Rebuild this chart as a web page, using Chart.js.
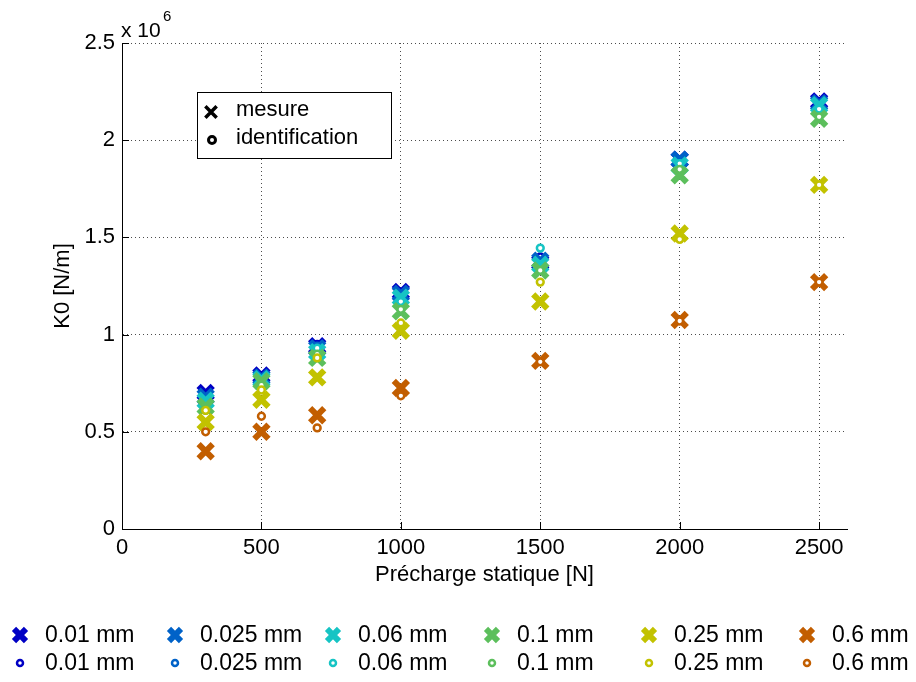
<!DOCTYPE html>
<html>
<head>
<meta charset="utf-8">
<script src="https://cdn.jsdelivr.net/npm/chart.js@4/dist/chart.umd.min.js"></script>
<style>
  html, body { margin: 0; padding: 0; background: #fff; }
  #box { width: 916px; height: 682px; }
</style>
</head>
<body>
<div id="box"><canvas id="graphique"></canvas></div>
<script>
// données (K0 en unités de 1e6 N/m)
const precharge = [300, 500, 700, 1000, 1500, 2000, 2500];
const epaisseurs = ["0.01 mm", "0.025 mm", "0.06 mm", "0.1 mm", "0.25 mm", "0.6 mm"];
const couleurs = ["#0000c4", "#0062c8", "#16c4c4", "#5cbf5c", "#c2c200", "#c25e00"];

const mesure001 = [0.70, 0.79, 0.94, 1.22, 1.37, 1.90, 2.20];
const mesure0025 = [0.68, 0.78, 0.93, 1.21, 1.38, 1.90, 2.19];
const mesure006 = [0.66, 0.77, 0.91, 1.19, 1.36, 1.87, 2.18];
const mesure01 = [0.63, 0.76, 0.88, 1.12, 1.33, 1.82, 2.11];
const mesure025 = [0.55, 0.665, 0.78, 1.02, 1.17, 1.52, 1.77];
const mesure06 = [0.40, 0.50, 0.585, 0.725, 0.865, 1.075, 1.27];

const ident001 = [0.64, 0.77, 0.95, 1.20, 1.40, 1.89, 2.19];
const ident0025 = [0.63, 0.76, 0.94, 1.18, 1.37, 1.88, 2.17];
const ident006 = [0.62, 0.75, 0.93, 1.17, 1.445, 1.88, 2.16];
const ident01 = [0.61, 0.74, 0.90, 1.13, 1.33, 1.85, 2.12];
const ident025 = [0.61, 0.715, 0.88, 1.06, 1.27, 1.49, 1.77];
const ident06 = [0.50, 0.58, 0.52, 0.685, 0.86, 1.07, 1.27];

const xTicks = [0, 500, 1000, 1500, 2000, 2500];
const yTicks = [0, 0.5, 1, 1.5, 2, 2.5];

const mesures = [mesure001, mesure0025, mesure006, mesure01, mesure025, mesure06];
const idents = [ident001, ident0025, ident006, ident01, ident025, ident06];

const police = "'Liberation Sans', Arial, sans-serif";

const styleCroix = { pointStyle: "crossRot", radius: 10, borderWidth: 6 };
const styleRond = { pointStyle: "circle", radius: 3.4, borderWidth: 2.5 };

const datasets = [];
epaisseurs.forEach((ep, i) => {
    datasets.push({
        label: ep,
        data: precharge.map((x, k) => ({ x, y: mesures[i][k] })),
        pointStyle: styleCroix.pointStyle,
        pointRadius: styleCroix.radius,
        pointBorderWidth: styleCroix.borderWidth,
        borderColor: couleurs[i],
        backgroundColor: couleurs[i],
        type_marqueur: "croix"
    });
    datasets.push({
        label: ep,
        data: precharge.map((x, k) => ({ x, y: idents[i][k] })),
        pointStyle: styleRond.pointStyle,
        pointRadius: styleRond.radius,
        pointBorderWidth: styleRond.borderWidth,
        borderColor: couleurs[i],
        backgroundColor: "#ffffff",
        type_marqueur: "rond"
    });
});
// les derniers tracés passent au-dessus (comme dans MATLAB)
datasets.forEach((d, i) => { d.order = datasets.length - i; });

function marqueur(ctx, style, couleur, fond, x, y) {
    ctx.save();
    ctx.strokeStyle = couleur;
    ctx.fillStyle = fond;
    ctx.lineWidth = style.borderWidth;
    Chart.helpers.drawPoint(ctx, { pointStyle: style.pointStyle, radius: style.radius, borderWidth: style.borderWidth, rotation: 0 }, x, y);
    ctx.restore();
}

const decor = {
    id: "decor",
    afterDraw(chart) {
        const ctx = chart.ctx;
        const a = chart.chartArea;
        const sx = chart.scales.x, sy = chart.scales.y;

        // petites graduations vers l'intérieur
        ctx.save();
        ctx.strokeStyle = "#000";
        ctx.lineWidth = 1;
        ctx.beginPath();
        xTicks.forEach(v => {
            const px = Math.round(sx.getPixelForValue(v)) + 0.5;
            ctx.moveTo(px, a.bottom);
            ctx.lineTo(px, a.bottom - 7);
        });
        yTicks.forEach(v => {
            const py = Math.round(sy.getPixelForValue(v)) + 0.5;
            ctx.moveTo(a.left, py);
            ctx.lineTo(a.left + 7, py);
        });
        ctx.stroke();

        ctx.fillStyle = "#000";
        // x 10^6
        ctx.font = "21px " + police;
        ctx.textAlign = "left";
        ctx.textBaseline = "alphabetic";
        ctx.fillText("x 10", a.left - 1, a.top - 6);
        ctx.font = "15px " + police;
        ctx.fillText("6", a.left + 41, a.top - 22);

        // titres des axes
        ctx.font = "22px " + police;
        ctx.textAlign = "center";
        ctx.textBaseline = "middle";
        ctx.fillText("Précharge statique [N]", (a.left + a.right) / 2, 575);
        ctx.save();
        ctx.translate(63, (a.top + a.bottom) / 2);
        ctx.rotate(-Math.PI / 2);
        ctx.fillText("K0 [N/m]", 0, 0);
        ctx.restore();

        // légende intérieure (mesure / identification)
        ctx.fillStyle = "#fff";
        ctx.fillRect(197.5, 92.5, 194, 66);
        ctx.strokeStyle = "#000";
        ctx.lineWidth = 1;
        ctx.strokeRect(197.5, 92.5, 194, 66);
        marqueur(ctx, { pointStyle: "crossRot", radius: 8, borderWidth: 3.5 }, "#000", "#000", 211, 112);
        marqueur(ctx, { pointStyle: "circle", radius: 3.5, borderWidth: 3 }, "#000", "#fff", 212, 140);
        ctx.fillStyle = "#000";
        ctx.font = "22px " + police;
        ctx.textAlign = "left";
        ctx.textBaseline = "middle";
        ctx.fillText("mesure", 236, 110);
        ctx.fillText("identification", 236, 138);

        // légende du bas
        const colX = [20, 175, 333, 492, 649, 807];
        const rowY = [635, 663];
        ctx.font = "23px " + police;
        chart.data.datasets.forEach((d, j) => {
            const col = Math.floor(j / 2);
            const row = d.type_marqueur === "croix" ? 0 : 1;
            const x = colX[col], y = rowY[row];
            if (row === 0) {
                marqueur(ctx, { pointStyle: "crossRot", radius: 8.5, borderWidth: 6 }, d.borderColor, d.borderColor, x, y);
            } else {
                marqueur(ctx, { pointStyle: "circle", radius: 3, borderWidth: 2.5 }, d.borderColor, "#fff", x, y);
            }
            ctx.fillStyle = "#000";
            ctx.fillText(d.label, x + 25, y + 1);
        });
        ctx.restore();
    }
};

new Chart(document.getElementById("graphique"), {
    type: "scatter",
    data: { datasets },
    options: {
        responsive: true,
        maintainAspectRatio: false,
        animation: false,
        layout: { padding: { top: 43, right: 69, bottom: 113, left: 0 } },
        plugins: {
            legend: { display: false },
            tooltip: { enabled: false }
        },
        scales: {
            x: {
                type: "linear",
                min: 0,
                max: 2600,
                afterFit: s => { s.height = 40; },
                afterBuildTicks: s => { s.ticks = xTicks.map(v => ({ value: v })); },
                grid: { color: "rgba(0,0,0,0.7)", lineWidth: 1, drawTicks: false },
                border: { display: true, color: "#000", width: 1, dash: [1, 3] },
                ticks: {
                    color: "#000",
                    padding: 6,
                    maxRotation: 0,
                    font: { family: police, size: 22 },
                    callback: v => String(v)
                }
            },
            y: {
                type: "linear",
                min: 0,
                max: 2.5,
                afterFit: s => { s.width = 122; },
                afterBuildTicks: s => { s.ticks = yTicks.map(v => ({ value: v })); },
                grid: { color: "rgba(0,0,0,0.7)", lineWidth: 1, drawTicks: false },
                border: { display: true, color: "#000", width: 1, dash: [1, 3] },
                ticks: {
                    color: "#000",
                    padding: 7,
                    font: { family: police, size: 22 },
                    callback: v => String(v)
                }
            }
        }
    },
    plugins: [decor]
});
</script>
</body>
</html>
